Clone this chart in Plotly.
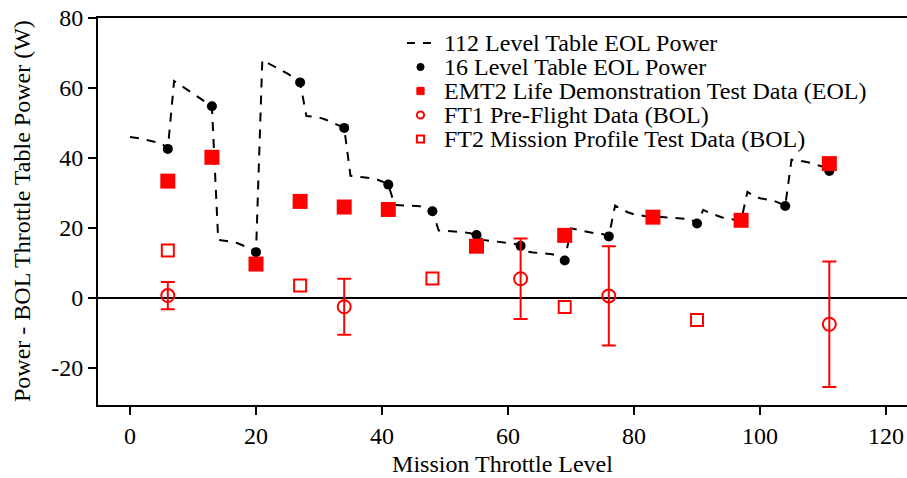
import plotly.graph_objects as go

# ---------------- data ----------------
levels_112 = list(range(112))
power_112 = [
    46.0, 45.8, 45.5, 45.0, 44.6, 44.2, 42.6, 62.0, 60.8, 59.6,
    58.4, 57.3, 56.1, 54.8, 16.6, 16.4, 16.1, 15.7, 15.0, 14.2,
    13.1, 68.0, 67.0, 66.1, 65.2, 64.1, 63.0, 61.6, 52.0, 51.8,
    51.6, 51.0, 50.2, 49.5, 48.6, 34.9, 34.6, 34.5, 34.3, 34.0,
    33.3, 32.4, 26.6, 26.5, 26.5, 26.4, 26.2, 25.6, 24.8, 19.3,
    19.2, 19.1, 19.0, 18.8, 18.5, 18.0, 16.6, 16.4, 16.3, 16.1,
    15.9, 15.5, 14.9, 13.3, 13.0, 12.9, 12.8, 12.5, 12.1, 10.7,
    19.9, 19.5, 19.0, 18.6, 18.4, 18.3, 17.6, 26.4, 25.4, 24.5,
    23.9, 23.5, 23.3, 23.3, 23.1, 23.0, 22.9, 22.8, 22.7, 22.5,
    21.3, 25.2, 24.3, 23.6, 23.0, 22.6, 22.3, 22.1, 30.3, 29.2,
    28.5, 28.2, 27.9, 27.2, 26.3, 39.5, 39.3, 39.0, 38.6, 38.1,
    37.5, 36.3,
]

levels_16 = [6, 13, 20, 27, 34, 41, 48, 55, 62, 69, 76, 83, 90, 97, 104, 111]
power_16 = [42.6, 54.8, 13.1, 61.6, 48.6, 32.4, 24.8, 18.0, 14.9, 10.7,
            17.6, 23.3, 21.3, 22.1, 26.3, 36.3]

emt2_levels = [6, 13, 20, 27, 34, 41, 55, 69, 83, 97, 111]
emt2_power = [33.4, 40.2, 9.7, 27.6, 26.0, 25.3, 14.8, 17.9, 23.1, 22.2, 38.4]

ft1_levels = [6, 34, 62, 76, 111]
ft1_power = [0.7, -2.5, 5.5, 0.6, -7.5]
ft1_err = [3.9, 8.0, 11.5, 14.2, 17.9]

ft2_levels = [6, 27, 48, 69, 90]
ft2_power = [13.6, 3.6, 5.6, -2.6, -6.3]

legend_labels = [
    "112 Level Table EOL Power",
    "16 Level Table EOL Power",
    "EMT2 Life Demonstration Test Data (EOL)",
    "FT1 Pre-Flight Data (BOL)",
    "FT2 Mission Profile Test Data (BOL)",
]

x_ticks = [0, 20, 40, 60, 80, 100, 120]
y_ticks = [-20, 0, 20, 40, 60, 80]
y_ticktext = ["-20", "0", "20", "40", "60", "80"]

x_title = "Mission Throttle Level"
y_title = "Power - BOL Throttle Table Power (W)"

# ---------------- style ----------------
FONT = "Liberation Serif"
FS = 24
RED = "#ff0000"
W, H = 907, 478
ML, MR, MT, MB = 98, 0, 18, 73

fig = go.Figure()

fig.add_trace(go.Scatter(
    x=levels_112, y=power_112, mode="lines",
    line=dict(color="black", width=2, dash="9px,8px"),
    name=legend_labels[0], showlegend=False,
))
fig.add_trace(go.Scatter(
    x=levels_16, y=power_16, mode="markers",
    marker=dict(symbol="circle", size=10, color="black"),
    name=legend_labels[1], showlegend=False,
))
fig.add_trace(go.Scatter(
    x=emt2_levels, y=emt2_power, mode="markers",
    marker=dict(symbol="square", size=15, color=RED),
    name=legend_labels[2], showlegend=False,
))
fig.add_trace(go.Scatter(
    x=ft1_levels, y=ft1_power, mode="markers",
    marker=dict(symbol="circle-open", size=13, color=RED, line=dict(width=2, color=RED)),
    error_y=dict(type="data", array=ft1_err, visible=True, color=RED, thickness=2, width=7),
    name=legend_labels[3], showlegend=False,
))
fig.add_trace(go.Scatter(
    x=ft2_levels, y=ft2_power, mode="markers",
    marker=dict(symbol="square-open", size=12, color=RED, line=dict(width=2, color=RED)),
    name=legend_labels[4], showlegend=False,
))

# ---------------- manual legend (pixel positions converted to paper) ----------------
def px(x):
    return (x - ML) / (W - ML - MR)

def py(y):
    return (H - MB - y) / (H - MT - MB)

rows = [43, 67, 91, 115, 139]
sym_x = 420.5
shapes = []
shapes.append(dict(type="line", xref="paper", yref="paper",
                   x0=px(407), x1=px(433), y0=py(rows[0]), y1=py(rows[0]),
                   line=dict(color="black", width=2, dash="8px,8px")))
r = 3.6
shapes.append(dict(type="circle", xref="paper", yref="paper",
                   x0=px(sym_x - r), x1=px(sym_x + r), y0=py(rows[1] + r), y1=py(rows[1] - r),
                   fillcolor="black", line=dict(color="black", width=1)))
shapes.append(dict(type="rect", xref="paper", yref="paper",
                   x0=px(sym_x - r), x1=px(sym_x + r), y0=py(rows[2] + r), y1=py(rows[2] - r),
                   fillcolor=RED, line=dict(color=RED, width=1)))
shapes.append(dict(type="circle", xref="paper", yref="paper",
                   x0=px(sym_x - r), x1=px(sym_x + r), y0=py(rows[3] + r), y1=py(rows[3] - r),
                   fillcolor="rgba(0,0,0,0)", line=dict(color=RED, width=2)))
shapes.append(dict(type="rect", xref="paper", yref="paper",
                   x0=px(sym_x - r), x1=px(sym_x + r), y0=py(rows[4] + r), y1=py(rows[4] - r),
                   fillcolor="rgba(0,0,0,0)", line=dict(color=RED, width=2)))

annotations = []
for label, ry in zip(legend_labels, rows):
    annotations.append(dict(
        text=label, xref="paper", yref="paper", x=px(442), y=py(ry),
        xanchor="left", yanchor="middle", showarrow=False,
        font=dict(family=FONT, size=FS, color="black"),
    ))

# y-axis title placed as rotated text
annotations.append(dict(
    text=y_title, xref="paper", yref="paper", x=px(22), y=py(211),
    xanchor="center", yanchor="middle", textangle=-90, showarrow=False,
    font=dict(family=FONT, size=FS, color="black"),
))

fig.update_layout(
    width=W, height=H,
    margin=dict(l=ML, r=MR, t=MT, b=MB),
    paper_bgcolor="white", plot_bgcolor="white",
    font=dict(family=FONT, size=FS, color="black"),
    shapes=shapes, annotations=annotations,
    showlegend=False,
)
fig.update_xaxes(
    range=[-5.08, 123.33], tickvals=x_ticks, showgrid=False, zeroline=False,
    showline=True, linecolor="black", linewidth=2, mirror=True,
    ticks="outside", ticklen=8, tickwidth=2, tickcolor="black",
    tickfont=dict(family=FONT, size=FS),
    title=dict(text=x_title, font=dict(family=FONT, size=FS), standoff=7),
)
fig.update_yaxes(
    range=[-30.57, 80], tickvals=y_ticks, ticktext=y_ticktext, showgrid=False,
    zeroline=True, zerolinecolor="black", zerolinewidth=2,
    showline=True, linecolor="black", linewidth=2,
    ticks="outside", ticklen=8, tickwidth=2, tickcolor="black",
    tickfont=dict(family=FONT, size=FS),
)

fig.write_html("out.html")
